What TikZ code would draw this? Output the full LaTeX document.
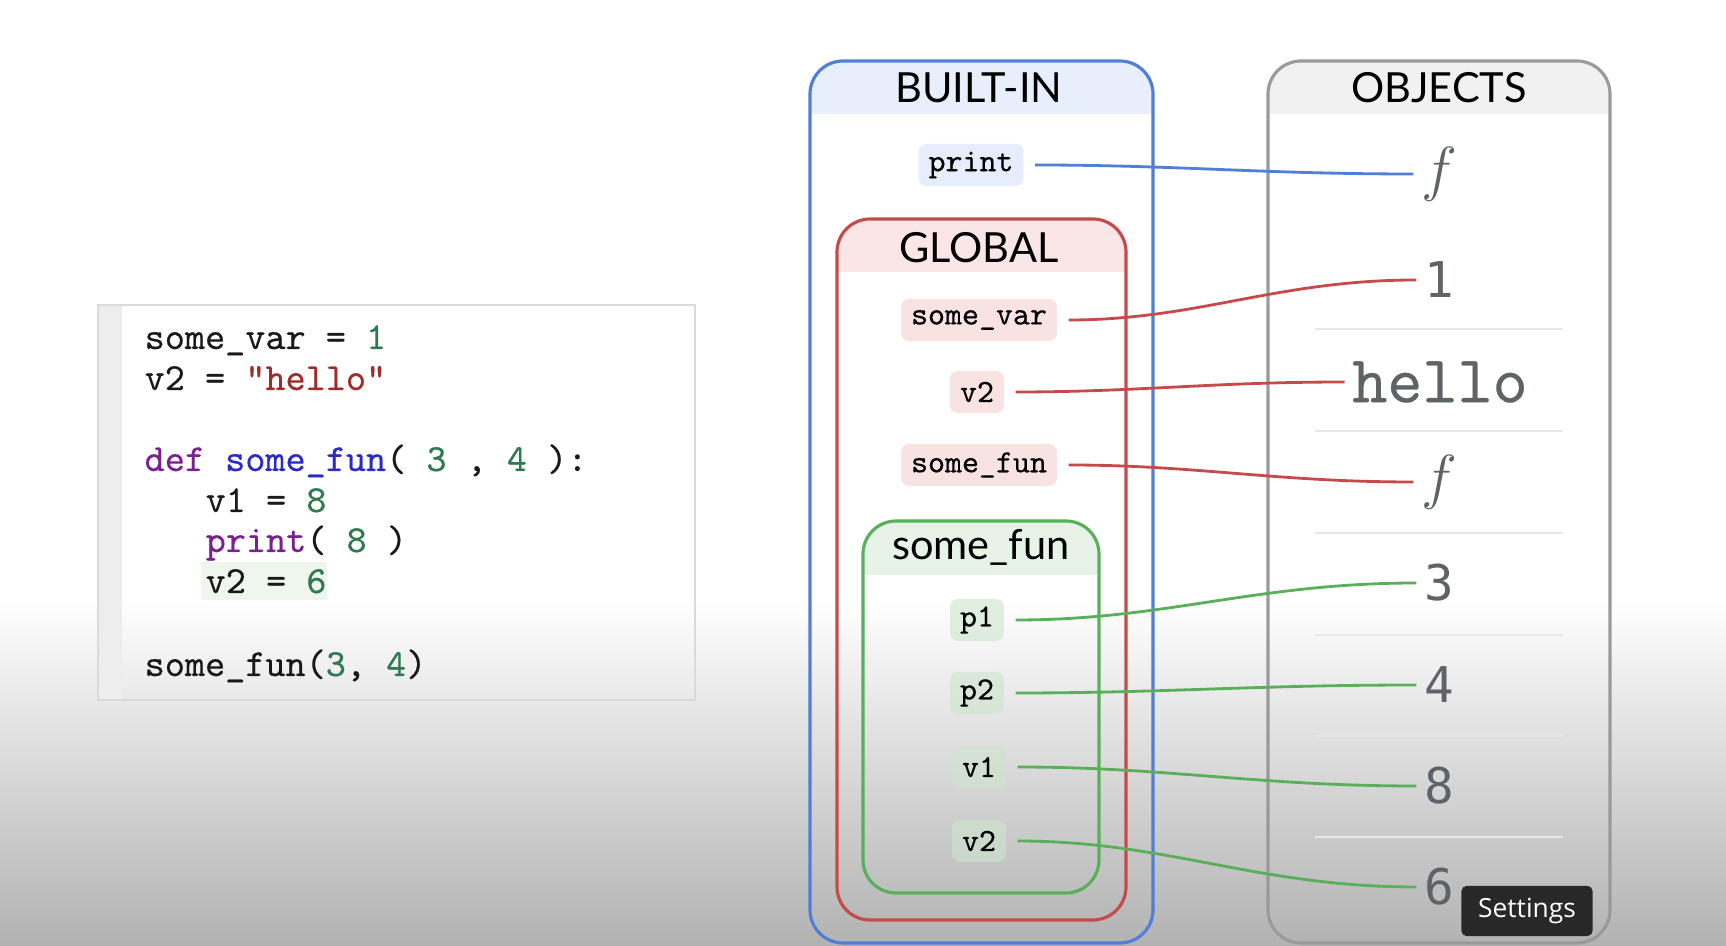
\documentclass[tikz,border=0pt]{standalone}
\usepackage{fontspec}
\setmainfont{Lato}
\setmonofont{lmmono10-regular.otf}[FakeBold=0.4]
\newfontfamily\digitfont{DejaVu Sans Mono}
\newfontfamily\tipfont{Open Sans}
\usepackage{tikz}
\usetikzlibrary{calc}
\definecolor{builtinblue}{HTML}{4F7FD6}
\definecolor{builtinhead}{HTML}{E8EFFC}
\definecolor{builtinpill}{HTML}{D6E2FA}
\definecolor{globalred}{HTML}{C54B4B}
\definecolor{globalhead}{HTML}{FAE6E6}
\definecolor{globalpill}{HTML}{F5D0D0}
\definecolor{funcgreen}{HTML}{5AAF5A}
\definecolor{funchead}{HTML}{E6F3E6}
\definecolor{funcpill}{HTML}{CDE5CD}
\definecolor{objgray}{HTML}{9A9A9A}
\definecolor{objhead}{HTML}{F1F1F1}
\definecolor{valgray}{HTML}{5F6368}
\definecolor{sepgray}{HTML}{E8E8E8}
\definecolor{codeedge}{HTML}{DADADA}
\definecolor{gutter}{HTML}{EDEDED}
\definecolor{numgreen}{HTML}{2F7A4F}
\definecolor{strred}{HTML}{A12A2A}
\definecolor{kwpurple}{HTML}{7A2090}
\definecolor{defblue}{HTML}{2A2AC8}
\definecolor{hlgreen}{HTML}{EEF6EE}
\definecolor{bggray}{HTML}{B2B2B2}
\definecolor{tipbg}{HTML}{282828}
\newcommand{\boxline}{0.9pt}
\newcommand{\wirewidth}{0.8pt}
\newcommand{\corner}{0.33cm}

\begin{document}
\begin{tikzpicture}[x=0.01cm, y=-0.01cm,
  headtext/.style={font=\fontsize{11.8}{14}\selectfont},
  varbox/.style={font=\ttfamily\fontsize{9.2}{10}\selectfont, rounded corners=0.08cm, minimum height=0.42cm, inner xsep=0.1cm, inner ysep=0pt, fill opacity=0.6, text opacity=1},
  objval/.style={text=valgray, inner sep=2pt},
  numval/.style={objval, font=\digitfont\fontsize{14}{16}\selectfont},
  fnval/.style={objval, font=\fontsize{18}{20}\selectfont},
  codeline/.style={anchor=base west, inner sep=0pt, text=black!90, font=\ttfamily\fontsize{10.9}{12}\selectfont},
  wireline/.style={line width=\wirewidth, shorten <=0.11cm}]
\useasboundingbox (0,0) rectangle (1726,946);
\fill[white] (0,0) rectangle (1726,600);
\shade[top color=white, bottom color=bggray] (0,600) rectangle (1726,946);
%code
\fill[gutter] (98,305) rectangle (122,700);
\draw[codeedge, line width=0.8pt] (98,305) rectangle (695,700);
\fill[hlgreen] (201,562) rectangle (327,600);
\node[codeline] (line1) at (144,349) {some\_var = \textcolor{numgreen}{1}};
\node[codeline] (line2) at (144,390) {v2 = \textcolor{strred}{"hello"}};
\node[codeline] (line3) at (144,471) {\textcolor{kwpurple}{def} \textcolor{defblue}{some\_fun}( \textcolor{numgreen}{3} , \textcolor{numgreen}{4} ):};
\node[codeline] (line4) at (205,512) {v1 = \textcolor{numgreen}{8}};
\node[codeline] (line5) at (205,552) {\textcolor{kwpurple}{print}( \textcolor{numgreen}{8} )};
\node[codeline] (line6) at (205,593) {v2 = \textcolor{numgreen}{6}};
\node[codeline] (line7) at (144,676) {some\_fun(\textcolor{numgreen}{3}, \textcolor{numgreen}{4})};
%builtin
\begin{scope}
\clip[rounded corners=\corner] (810,61) rectangle (1153,943);
\fill[builtinhead] (810,61) rectangle (1153,114);
\end{scope}
\draw[builtinblue, line width=\boxline, rounded corners=\corner] (810,61) rectangle (1153,943);
\node[headtext] (builtin) at (979,88) {BUILT-IN};
%objects
\begin{scope}
\clip[rounded corners=\corner] (1268,61) rectangle (1610,943);
\fill[objhead] (1268,61) rectangle (1610,114);
\end{scope}
\draw[objgray, line width=\boxline, rounded corners=\corner] (1268,61) rectangle (1610,943);
\node[headtext] (objects) at (1439,88) {OBJECTS};
\draw[sepgray, line width=0.6pt] (1315,329) -- (1563,329);
\draw[sepgray, line width=0.6pt] (1315,431) -- (1563,431);
\draw[sepgray, line width=0.6pt] (1315,533) -- (1563,533);
\draw[sepgray, line width=0.6pt] (1315,635) -- (1563,635);
\draw[sepgray, line width=0.6pt] (1315,736) -- (1563,736);
\draw[sepgray, line width=0.6pt] (1315,837) -- (1563,837);
%global
\begin{scope}
\clip[rounded corners=\corner] (837,219) rectangle (1126,920);
\fill[globalhead] (837,219) rectangle (1126,272);
\end{scope}
\draw[globalred, line width=\boxline, rounded corners=\corner] (837,219) rectangle (1126,920);
\node[headtext] (global) at (979,248) {GLOBAL};
%some_fun
\begin{scope}
\clip[rounded corners=\corner] (863,521) rectangle (1099,893);
\fill[funchead] (863,521) rectangle (1099,575);
\end{scope}
\draw[funcgreen, line width=\boxline, rounded corners=\corner] (863,521) rectangle (1099,893);
\node[headtext] (somefunhead) at (981,547) {some\_fun};
%names
\node[varbox, fill=builtinpill] (print) at (971,165) {print};
\node[varbox, fill=globalpill] (somevar) at (979,320) {some\_var};
\node[varbox, fill=globalpill] (gvtwo) at (977,392) {v2};
\node[varbox, fill=globalpill] (somefun) at (979,465) {some\_fun};
\node[varbox, fill=funcpill] (pone) at (977,620) {p1};
\node[varbox, fill=funcpill] (ptwo) at (977,693) {p2};
\node[varbox, fill=funcpill] (vone) at (979,767) {v1};
\node[varbox, fill=funcpill] (fvtwo) at (979,841) {v2};
%values
\node[fnval] (fprint) at (1439,174) {$f$};
\node[numval] (one) at (1439,280) {1};
\node[objval, font=\ttfamily\fontsize{19}{21}\selectfont] (hello) at (1440,382) {hello};
\node[fnval] (ffun) at (1439,482) {$f$};
\node[numval] (three) at (1439,583) {3};
\node[numval] (four) at (1439,685) {4};
\node[numval] (eight) at (1439,786) {8};
\node[numval] (six) at (1439,887) {6};
%wires
\draw[wireline, builtinblue] (print.east) to[out=0, in=180] (fprint.west);
\draw[wireline, globalred] (somevar.east) to[out=0, in=180] (one.west);
\draw[wireline, globalred] (gvtwo.east) to[out=0, in=180] (hello.west);
\draw[wireline, globalred] (somefun.east) to[out=0, in=180] (ffun.west);
\draw[wireline, funcgreen] (pone.east) to[out=0, in=180] (three.west);
\draw[wireline, funcgreen] (ptwo.east) to[out=0, in=180] (four.west);
\draw[wireline, funcgreen] (vone.east) to[out=0, in=180] (eight.west);
\draw[wireline, funcgreen] (fvtwo.east) to[out=0, in=180] (six.west);
%tooltip
\node[fill=tipbg, rounded corners=0.05cm, text=white, font=\tipfont\fontsize{7.5}{9}\selectfont, minimum width=1.31cm, minimum height=0.5cm] (settings) at (1527,911) {Settings};
\end{tikzpicture}
\end{document}
